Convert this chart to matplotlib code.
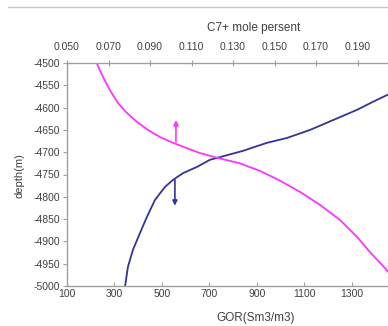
import matplotlib
matplotlib.use("Agg")
import matplotlib.pyplot as plt
from matplotlib.lines import Line2D

# GOR (bottom axis) vs depth
gor = [345, 357, 378, 408, 437, 471, 513, 547, 589, 648, 703, 745, 842, 943,
       1028, 1125, 1222, 1323, 1390, 1449, 1500]
gor_depth = [-5000, -4957, -4919, -4881, -4845, -4807, -4778, -4762, -4747,
             -4733, -4717, -4711, -4697, -4679, -4668, -4650, -4628, -4605,
             -4587, -4572, -4561]

# C7+ mole persent (top axis) vs depth
c7 = [0.0643, 0.0673, 0.0707, 0.0746, 0.0789, 0.0837, 0.0890, 0.0948, 0.1011,
      0.1078, 0.1141, 0.1228, 0.1334, 0.1430, 0.1527, 0.1623, 0.1719, 0.1816,
      0.1898, 0.1960, 0.2033, 0.2100]
c7_depth = [-4500, -4531, -4561, -4590, -4612, -4632, -4650, -4666, -4679,
            -4691, -4702, -4713, -4725, -4742, -4764, -4789, -4818, -4852,
            -4890, -4924, -4960, -4998]

# arrows (x, y_start, y_end)
c7_arrow = (0.1025, -4677, -4628)
gor_arrow = (555, -4762, -4820)

gor_ticks = [100, 300, 500, 700, 900, 1100, 1300, 1500]
c7_ticks = [0.05, 0.07, 0.09, 0.11, 0.13, 0.15, 0.17, 0.19]
depth_ticks = [-4500, -4550, -4600, -4650, -4700, -4750, -4800, -4850,
               -4900, -4950, -5000]

plt.rcParams['font.family'] = ['Liberation Sans', 'DejaVu Sans']

W, H = 388, 326
fig = plt.figure(figsize=(W / 100, H / 100), dpi=100)
left, right = 67, 399
top, bottom = 63, 286
ax = fig.add_axes([left / W, 1 - bottom / H, (right - left) / W, (bottom - top) / H])
ax2 = ax.twiny()

grey = '#a0a0a0'
txt = '#404040'
blue = '#333399'
pink = '#ff33ff'

ax.plot(gor, gor_depth, color=blue, lw=1.3, solid_capstyle='round',
        solid_joinstyle='round')
ax2.plot(c7, c7_depth, color=pink, lw=1.3, solid_capstyle='round',
         solid_joinstyle='round')

ax2.annotate('', xy=(c7_arrow[0], c7_arrow[2]), xytext=(c7_arrow[0], c7_arrow[1]),
             arrowprops=dict(arrowstyle='-|>', color=pink, lw=1.2,
                             mutation_scale=7, shrinkA=0, shrinkB=0))
ax.annotate('', xy=(gor_arrow[0], gor_arrow[2]), xytext=(gor_arrow[0], gor_arrow[1]),
            arrowprops=dict(arrowstyle='-|>', color=blue, lw=1.2,
                            mutation_scale=7, shrinkA=0, shrinkB=0))

ax.set_xlim(100, 1500)
ax2.set_xlim(0.05, 0.21)
ax.set_ylim(-5000, -4500)

ax.set_xticks(gor_ticks)
ax.set_xticklabels([str(t) for t in gor_ticks])
ax2.set_xticks(c7_ticks)
ax2.set_xticklabels(['%.3f' % t for t in c7_ticks])
ax.set_yticks(depth_ticks)
ax.set_yticklabels([str(t) for t in depth_ticks])

for a in (ax, ax2):
    for s in a.spines.values():
        s.set_visible(False)
ax.spines['left'].set_visible(True)
ax.spines['bottom'].set_visible(True)
ax2.spines['top'].set_visible(True)
for s in (ax.spines['left'], ax.spines['bottom'], ax2.spines['top']):
    s.set_color(grey)
    s.set_linewidth(1.0)

ax.tick_params(axis='x', direction='in', length=3, color=grey, labelsize=7.5,
               labelcolor=txt, pad=2)
ax.tick_params(axis='y', direction='out', length=3, color=grey, labelsize=7.5,
               labelcolor=txt, pad=2)
ax2.tick_params(axis='x', direction='inout', length=4, color=grey, labelsize=7.5,
                labelcolor=txt, pad=6)

ax.set_xlabel('GOR(Sm3/m3)', fontsize=8.5, color=txt)
ax.xaxis.set_label_coords((256 - left) / (right - left), -(318 - bottom) / (bottom - top))
ax.xaxis.label.set_va('center')
ax2.set_xlabel('C7+ mole persent', fontsize=8.5, color=txt)
ax2.xaxis.set_label_coords((254 - left) / (right - left), 1 + (top - 28) / (bottom - top))
ax2.xaxis.label.set_va('center')
ax.set_ylabel('depth(m)', fontsize=8, color=txt)
ax.yaxis.set_label_coords(-(left - 19) / (right - left), (bottom - 176) / (bottom - top))
ax.yaxis.label.set_va('center')

fig.add_artist(Line2D([8 / W, 1], [1 - 7 / H, 1 - 7 / H], color='#c8c8c8', lw=1.0,
                      transform=fig.transFigure))

fig.savefig('out.png', dpi=100)
